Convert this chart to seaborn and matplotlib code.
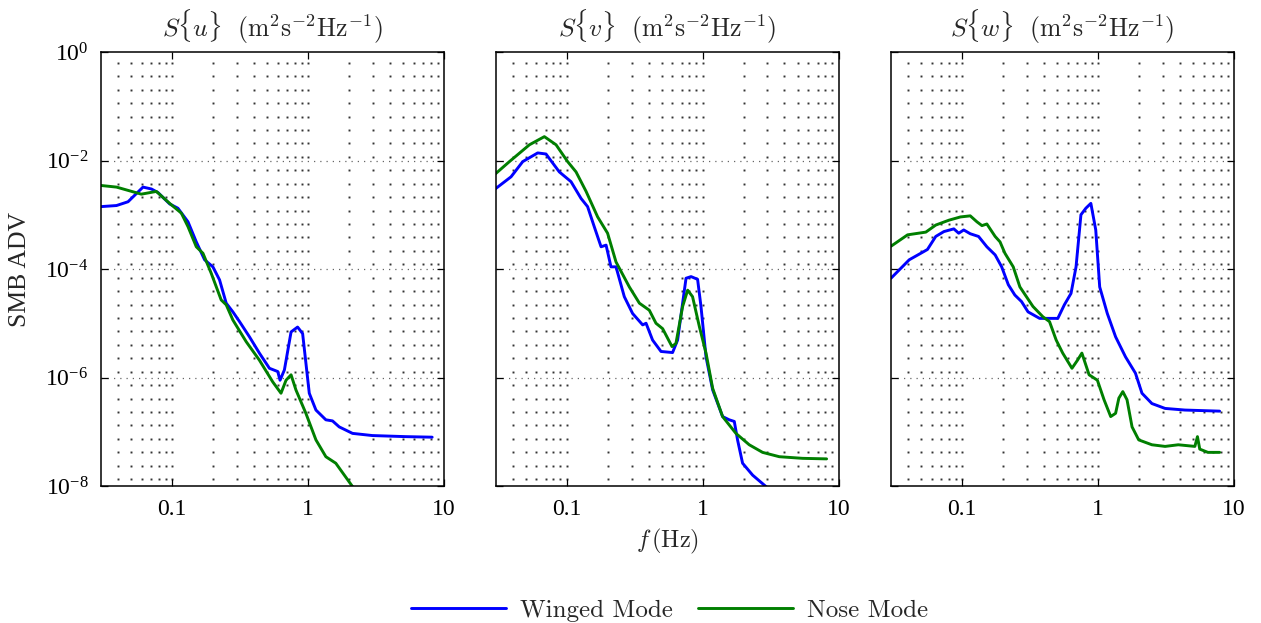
import numpy as np
import pandas as pd
import seaborn as sns
import matplotlib.pyplot as plt
from matplotlib.lines import Line2D
from matplotlib.ticker import FixedLocator, FixedFormatter, LogFormatterSciNotation, NullLocator

# spectra, stored as log10(f) and log10(S)
u_wing_logf = [-1.523, -1.408, -1.323, -1.213, -1.151, -1.103, -1.017, -0.956, -0.882, -0.821, -0.760,
               -0.699, -0.650, -0.601, -0.552, -0.503, -0.430, -0.357, -0.283, -0.222, -0.205, -0.173,
               -0.124, -0.076, -0.039, 0.010, 0.059, 0.132, 0.181, 0.230, 0.328, 0.474, 0.719, 0.914]
u_wing_logS = [-2.85, -2.83, -2.76, -2.49, -2.525, -2.59, -2.80, -2.88, -3.13, -3.50, -3.83,
               -3.96, -4.20, -4.63, -4.79, -4.97, -5.25, -5.55, -5.83, -5.89, -6.05, -5.86,
               -5.16, -5.07, -5.19, -6.29, -6.60, -6.78, -6.80, -6.91, -7.03, -7.07, -7.09, -7.10]
u_nose_logf = [-1.523, -1.408, -1.310, -1.225, -1.115, -1.017, -0.931, -0.882, -0.821, -0.772, -0.711,
               -0.638, -0.601, -0.552, -0.454, -0.357, -0.259, -0.198, -0.161, -0.124, -0.088, -0.015,
               0.059, 0.132, 0.205, 0.328, 0.36]
u_nose_logS = [-2.46, -2.49, -2.56, -2.62, -2.57, -2.79, -2.97, -3.22, -3.59, -3.71, -4.08,
               -4.57, -4.66, -4.94, -5.34, -5.68, -6.08, -6.29, -6.05, -5.95, -6.23, -6.66,
               -7.15, -7.46, -7.58, -8.01, -8.2]

v_wing_logf = [-1.526, -1.409, -1.323, -1.213, -1.152, -1.054, -0.968, -0.894, -0.846, -0.797, -0.747,
               -0.710, -0.674, -0.637, -0.576, -0.515, -0.441, -0.416, -0.368, -0.306, -0.221, -0.184,
               -0.122, -0.085, -0.037, -0.012, 0.025, 0.074, 0.147, 0.196, 0.233, 0.257, 0.294, 0.368,
               0.466, 0.50]
v_wing_logS = [-2.525, -2.30, -2.02, -1.86, -1.88, -2.21, -2.39, -2.70, -2.85, -3.22, -3.59,
               -3.56, -3.96, -3.96, -4.51, -4.82, -5.03, -5.00, -5.31, -5.52, -5.54, -5.31,
               -4.17, -4.14, -4.19, -4.69, -5.62, -6.23, -6.72, -6.78, -6.81, -7.15, -7.58, -7.80,
               -8.01, -8.1]
v_nose_logf = [-1.526, -1.421, -1.274, -1.164, -1.078, -0.993, -0.931, -0.857, -0.772, -0.699, -0.637,
               -0.539, -0.465, -0.392, -0.343, -0.294, -0.225, -0.196, -0.147, -0.110, -0.074, -0.024,
               0.025, 0.074, 0.147, 0.245, 0.343, 0.441, 0.564, 0.735, 0.912]
v_nose_logS = [-2.25, -2.02, -1.71, -1.56, -1.71, -2.02, -2.21, -2.57, -3.04, -3.34, -3.87,
               -4.33, -4.63, -4.76, -5.00, -5.10, -5.43, -5.37, -4.69, -4.39, -4.51, -5.06,
               -5.55, -6.20, -6.72, -7.03, -7.24, -7.38, -7.46, -7.49, -7.50]

w_wing_logf = [-1.523, -1.389, -1.304, -1.255, -1.194, -1.134, -1.061, -1.025, -0.988, -0.940, -0.879,
               -0.818, -0.757, -0.709, -0.660, -0.612, -0.563, -0.515, -0.430, -0.296, -0.248, -0.199,
               -0.162, -0.126, -0.090, -0.053, -0.017, 0.012, 0.068, 0.129, 0.202, 0.275, 0.323, 0.396,
               0.493, 0.639, 0.894]
w_wing_logS = [-4.17, -3.83, -3.71, -3.64, -3.40, -3.31, -3.26, -3.34, -3.28, -3.35, -3.40,
               -3.59, -3.74, -3.96, -4.29, -4.48, -4.60, -4.79, -4.91, -4.91, -4.66, -4.45,
               -3.96, -3.00, -2.88, -2.79, -3.28, -4.33, -4.82, -5.25, -5.62, -5.92, -6.29, -6.48,
               -6.57, -6.60, -6.62]
w_nose_logf = [-1.523, -1.401, -1.267, -1.194, -1.097, -1.012, -0.940, -0.891, -0.854, -0.818, -0.757,
               -0.721, -0.685, -0.624, -0.575, -0.479, -0.406, -0.357, -0.308, -0.260, -0.192, -0.151,
               -0.119, -0.066, -0.005, 0.044, 0.093, 0.129, 0.153, 0.182, 0.213, 0.250, 0.299, 0.396,
               0.493, 0.590, 0.712, 0.731, 0.748, 0.808, 0.894]
w_nose_logS = [-3.58, -3.37, -3.32, -3.19, -3.10, -3.04, -3.02, -3.13, -3.20, -3.17, -3.40,
               -3.50, -3.71, -3.96, -4.33, -4.69, -4.88, -4.97, -5.31, -5.55, -5.83, -5.68,
               -5.55, -5.95, -6.05, -6.41, -6.72, -6.66, -6.38, -6.26, -6.41, -6.91, -7.15, -7.24,
               -7.27, -7.24, -7.27, -7.09, -7.32, -7.38, -7.38]

titles = [r"$S\{u\}\ \ (\mathrm{m^2s^{-2}Hz^{-1}})$",
          r"$S\{v\}\ \ (\mathrm{m^2s^{-2}Hz^{-1}})$",
          r"$S\{w\}\ \ (\mathrm{m^2s^{-2}Hz^{-1}})$"]
series_names = ["Winged Mode", "Nose Mode"]
colors = ["#0000ff", "#007f00"]
x_ticks = [0.1, 1, 10]
x_ticklabels = ["0.1", "1", "10"]
y_ticks = [1e0, 1e-2, 1e-4, 1e-6, 1e-8]

panels = [(u_wing_logf, u_wing_logS, u_nose_logf, u_nose_logS),
          (v_wing_logf, v_wing_logS, v_nose_logf, v_nose_logS),
          (w_wing_logf, w_wing_logS, w_nose_logf, w_nose_logS)]

sns.set_style("white")
plt.rcParams['font.family'] = ['Liberation Serif', 'DejaVu Serif']
plt.rcParams['mathtext.fontset'] = 'cm'

fig = plt.figure(figsize=(12.61, 6.23), dpi=100)
lefts = [0.080, 0.393, 0.7066]
axes = [fig.add_axes([l, 0.2199, 0.272, 0.6966]) for l in lefts]

# grid dot positions (MATLAB style sparse dotted grid)
gx = [m * 10.0**k for k in (-2, -1, 0) for m in range(1, 10) if 0.03 < m * 10.0**k < 10]
gy = [10 ** -(0.2 + 0.2475 * i) for i in range(33) if 0.2 + 0.2475 * i < 8]
GX, GY = np.meshgrid(gx, gy)

for i, ax in enumerate(axes):
    wf, ws, nf, ns = panels[i]
    df = pd.concat([
        pd.DataFrame({"f": 10 ** np.array(wf), "S": 10 ** np.array(ws), "mode": series_names[0]}),
        pd.DataFrame({"f": 10 ** np.array(nf), "S": 10 ** np.array(ns), "mode": series_names[1]}),
    ])
    ax.set_xscale("log")
    ax.set_yscale("log")
    ax.plot(GX.ravel(), GY.ravel(), ls="none", marker="s", ms=1.4, mew=0,
            color="#333333", zorder=0)
    for yv in [1e-2, 1e-4, 1e-6]:
        ax.axhline(yv, color="#666666", lw=0.9, ls=(0, (1, 4)), zorder=0)
    sns.lineplot(data=df, x="f", y="S", hue="mode", palette=colors, ax=ax,
                 estimator=None, sort=False, lw=2.1, legend=False)
    ax.set_xlim(0.03, 10)
    ax.set_ylim(1e-8, 1)
    ax.xaxis.set_major_locator(FixedLocator(x_ticks))
    ax.xaxis.set_major_formatter(FixedFormatter(x_ticklabels))
    ax.xaxis.set_minor_locator(NullLocator())
    ax.yaxis.set_major_locator(FixedLocator(y_ticks))
    ax.yaxis.set_major_formatter(LogFormatterSciNotation())
    ax.yaxis.set_minor_locator(NullLocator())
    ax.tick_params(which="major", direction="in", length=5, width=0.9,
                   top=True, right=True, bottom=True, left=True,
                   labelsize=17, pad=9, colors="black")
    if i > 0:
        ax.tick_params(labelleft=False)
    for sp in ax.spines.values():
        sp.set_color("black")
        sp.set_linewidth(1.1)
    ax.set_xlabel("")
    ax.set_ylabel("")
    ax.set_title(titles[i], fontsize=18.5, pad=11)

axes[0].set_ylabel("SMB ADV", fontsize=18.5, labelpad=10)
axes[1].set_xlabel(r"$f\,(\mathrm{Hz})$", fontsize=17.5, labelpad=5)

handles = [Line2D([], [], color=c, lw=2.1) for c in colors]
fig.legend(handles, series_names, loc="lower center", bbox_to_anchor=(0.531, -0.034),
           ncol=2, frameon=False, handlelength=3.8, handletextpad=0.55, columnspacing=1.0,
           prop={"family": "cmr10", "size": 18})

fig.savefig("out.png", dpi=100)
